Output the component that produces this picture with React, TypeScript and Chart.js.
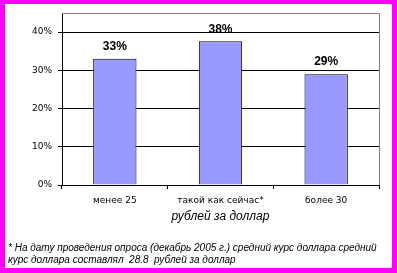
import React, { useEffect, useRef } from "react";
import { Chart, registerables } from "chart.js";

Chart.register(...registerables);

const categories = ["менее 25", "такой как сейчас*", "более 30"];
const values = [33, 37.6, 29];
const valueLabels = values.map((v) => Math.round(v) + "%");
const yTicks = [0, 10, 20, 30, 40];
const axisTitle = "рублей за доллар";
const footnoteLines = [
  "* На дату проведения опроса (декабрь 2005 г.) средний курс доллара средний",
  "курс доллара составлял  28.8  рублей за доллар",
];

const W = 397;
const H = 273;

export default function App() {
  const ref = useRef<HTMLCanvasElement | null>(null);

  useEffect(() => {
    const canvas = ref.current;
    if (!canvas) return;
    const framePlugin = {
      id: "frame",
      afterDraw(chart: any) {
        const { ctx, chartArea } = chart;
        ctx.save();
        ctx.strokeStyle = "#808080";
        ctx.lineWidth = 1;
        ctx.beginPath();
        ctx.moveTo(chartArea.left, chartArea.top + 0.5);
        ctx.lineTo(chartArea.right + 0.5, chartArea.top + 0.5);
        ctx.lineTo(chartArea.right + 0.5, chartArea.bottom);
        ctx.stroke();
        ctx.restore();
      },
    };
    const labelPlugin = {
      id: "valueLabels",
      afterDatasetsDraw(chart: any) {
        const { ctx } = chart;
        const meta = chart.getDatasetMeta(0);
        ctx.save();
        ctx.font = "bold 12px 'Liberation Sans', Arial, sans-serif";
        ctx.fillStyle = "#000";
        ctx.textAlign = "center";
        ctx.textBaseline = "bottom";
        meta.data.forEach((bar: any, i: number) => {
          ctx.fillText(valueLabels[i], bar.x, bar.y - 6);
        });
        ctx.restore();
      },
    };
    const chart = new Chart(canvas, {
      type: "bar",
      data: {
        labels: categories,
        datasets: [
          {
            data: values,
            backgroundColor: "#9999FF",
            borderColor: "#000000",
            borderWidth: 1,
            barPercentage: 0.41,
            categoryPercentage: 1,
          },
        ],
      },
      options: {
        responsive: false,
        maintainAspectRatio: false,
        animation: false,
        layout: { padding: { left: 0, top: 13, right: 18, bottom: 0 } },
        plugins: {
          legend: { display: false },
          tooltip: { enabled: false },
        },
        scales: {
          x: {
            grid: {
              drawOnChartArea: false,
              tickLength: 4,
              color: "#000",
              offset: true,
            },
            border: { color: "#000", width: 1 },
            ticks: {
              font: { family: "'DejaVu Sans'", size: 9 },
              color: "#000",
              padding: 6,
              maxRotation: 0,
              autoSkip: false,
            },
            afterFit: (s: any) => {
              s.height = 88;
            },
          },
          y: {
            min: 0,
            max: 45,
            afterBuildTicks: (s: any) => {
              s.ticks = yTicks.map((v) => ({ value: v }));
            },
            grid: { color: "#000", tickLength: 4 },
            border: { color: "#000", width: 1 },
            ticks: {
              font: { family: "'DejaVu Sans'", size: 9 },
              color: "#000",
              padding: 6,
              callback: (v: any) => v + "%",
            },
            afterFit: (s: any) => {
              s.width = 62;
            },
          },
        },
      },
      plugins: [framePlugin, labelPlugin],
    });
    return () => chart.destroy();
  }, []);

  return (
    <div
      style={{
        position: "fixed",
        left: 0,
        top: 0,
        width: W,
        height: H,
        background: "#FF00FF",
        overflow: "hidden",
      }}
    >
      <div
        style={{
          position: "absolute",
          left: 5,
          top: 4,
          width: 387,
          height: 264,
          background: "#FFFFFF",
        }}
      />
      <canvas
        ref={ref}
        width={W}
        height={H}
        style={{ position: "absolute", left: 0, top: 0, width: W, height: H }}
      />
      <div
        style={{
          position: "absolute",
          left: 62,
          width: 317,
          top: 209,
          textAlign: "center",
          font: "italic 12px 'Liberation Sans', Arial, sans-serif",
          lineHeight: "14px",
          color: "#000",
          whiteSpace: "nowrap",
        }}
      >
        {axisTitle}
      </div>
      <div
        style={{
          position: "absolute",
          left: 8,
          top: 242,
          font: "italic 10px 'Liberation Sans', Arial, sans-serif",
          lineHeight: "12px",
          color: "#000",
          whiteSpace: "pre",
        }}
      >
        {footnoteLines.map((l, i) => (
          <div key={i}>{l}</div>
        ))}
      </div>
    </div>
  );
}
